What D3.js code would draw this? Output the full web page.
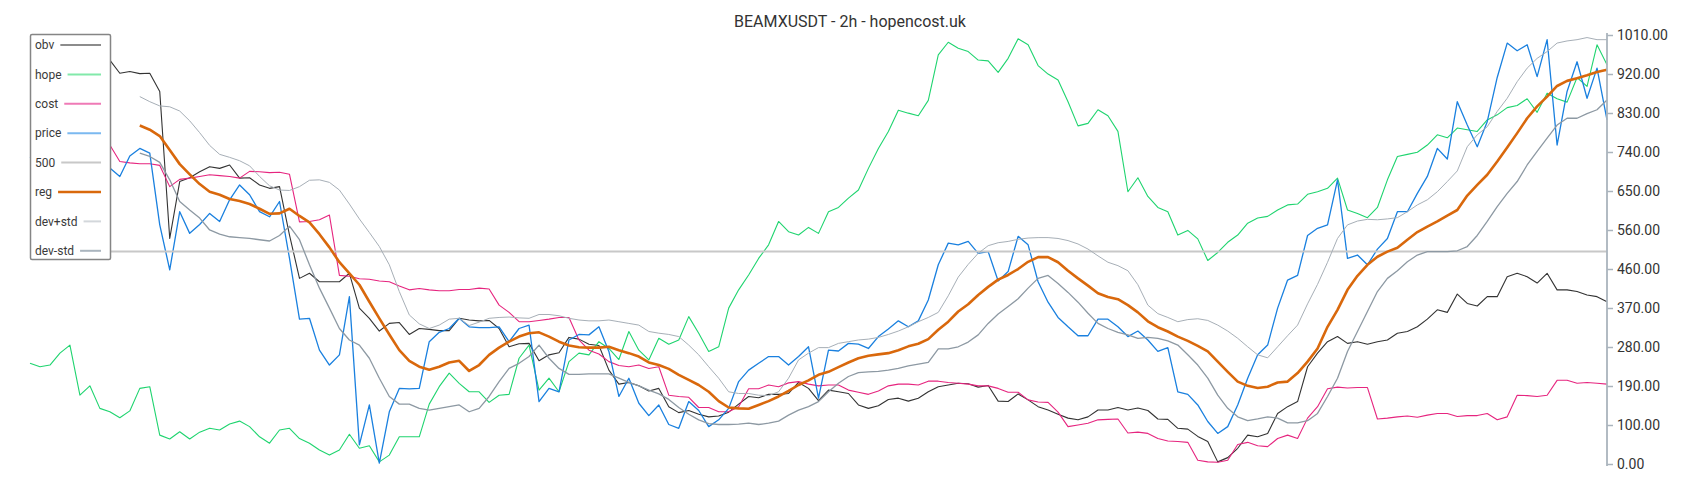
<!DOCTYPE html>
<html><head><meta charset="utf-8">
<script src="https://cdn.jsdelivr.net/npm/d3@7/dist/d3.min.js"></script>
<style>body{margin:0;background:#fff;} svg{display:block;font-family:Roboto,"Noto Sans",sans-serif;}</style>
</head><body><svg id="chart" width="1700" height="500"></svg>
<script>
const title = "BEAMXUSDT - 2h - hopencost.uk";
const tickLabels = ["0.00","100.00","190.00","280.00","370.00","460.00","560.00","650.00","740.00","830.00","920.00","1010.00"];
const yMax = 1010;
const refLevel = 500;
const seriesNames = ["obv","hope","cost","price","500","reg","dev+std","dev-std"];

const obv = [967,963,959,962,957,955,959,955,951,920,
924,919,920,877,531,665,674,688,700,696,
704,673,674,657,649,653,539,437,449,429,
429,429,449,367,343,313,331,333,305,319,
317,314,314,343,339,337,338,319,276,283,
284,243,257,262,298,294,282,279,221,188,
192,184,172,178,135,121,126,117,111,113,
122,141,159,156,164,164,166,192,178,149,
174,170,166,139,131,137,152,155,148,155,
170,182,186,190,189,181,185,148,147,165,
151,135,127,117,108,104,111,127,127,133,
127,132,126,106,105,84,82,65,53,5,
15,37,68,64,72,119,135,147,229,261,
288,300,284,288,282,288,292,308,312,323,
341,363,357,400,378,372,394,394,441,449,
441,426,449,410,410,406,398,394,382];

const hope = [237,229,233,261,280,162,184,131,123,109,
125,178,182,68,59,76,59,75,84,80,
94,101,88,64,49,80,84,60,49,33,
21,33,70,37,43,5,21,64,64,64,
141,182,214,190,170,170,145,162,164,249,
280,174,202,170,241,261,257,288,272,246,
312,268,245,296,282,292,347,308,265,276,
367,410,445,484,516,571,547,539,557,543,
594,604,626,645,696,743,783,833,826,820,
856,963,993,979,971,951,949,922,955,1001,
987,938,918,904,853,796,802,834,820,783,
641,674,630,604,594,539,550,530,479,498,
522,539,567,579,583,598,610,612,635,641,
649,673,598,590,580,604,669,724,729,734,
751,775,768,791,787,783,810,822,839,844,
860,828,873,860,852,910,889,987,940];

const cost = [759,757,755,755,754,753,753,753,751,712,
709,707,707,703,653,670,673,677,681,679,
677,673,689,688,686,687,682,570,571,575,
586,444,442,436,435,431,429,419,410,413,
410,408,408,411,411,414,412,374,357,335,
335,338,341,345,345,292,268,259,241,232,
229,233,225,229,162,159,157,133,133,123,
123,135,177,177,186,182,191,194,188,184,
186,186,174,169,164,172,184,188,188,186,
195,195,192,190,188,184,184,178,169,169,
151,146,145,122,88,92,96,104,105,106,
73,75,72,60,54,53,51,9,5,4,
9,46,51,43,41,60,68,60,108,135,
177,181,179,180,180,106,108,111,113,110,
115,119,119,112,114,114,119,104,111,162,
161,159,162,197,197,190,192,190,188];

const price = [720,736,704,728,713,697,720,704,697,677,
725,743,732,563,457,594,543,564,590,571,
622,657,634,594,582,618,484,341,343,268,
233,257,394,45,139,2,123,178,177,178,
288,310,319,343,323,321,321,323,288,319,
327,147,178,170,292,305,304,323,265,159,
202,143,114,139,93,84,147,126,88,104,
131,194,221,237,253,253,233,253,276,155,
268,266,284,282,272,300,318,337,323,337,
386,469,520,516,524,496,500,431,453,536,
516,429,381,345,323,302,302,341,341,323,
300,313,292,265,274,170,164,139,100,72,
88,139,202,257,280,367,433,444,538,555,
563,669,484,492,469,506,531,594,594,637,
677,743,718,853,798,747,806,910,991,973,
987,912,999,751,877,947,861,932,810];

const reg = [null,null,null,null,null,null,null,null,null,null,
null,797,787,772,739,706,682,659,641,634,
624,619,612,601,589,590,601,584,569,541,
510,475,449,422,382,343,305,268,243,229,
222,229,239,243,219,233,257,274,288,300,
308,310,300,288,279,275,274,274,276,268,
261,253,239,233,224,210,198,186,170,148,
133,131,130,139,148,159,172,186,197,210,
217,228,239,249,255,258,261,268,277,283,
294,316,335,359,376,398,417,434,445,459,
476,487,487,475,455,437,420,402,393,388,
374,357,336,322,312,300,290,278,265,241,
217,194,184,179,182,192,194,214,241,272,
323,363,410,443,469,488,500,509,528,546,
559,571,585,598,632,657,681,712,745,779,
814,842,865,890,902,908,915,923,928];

const devPlus = [null,null,null,null,null,null,null,null,null,null,
null,865,853,843,841,831,808,780,750,729,
722,714,702,677,655,645,644,653,668,669,
663,645,612,577,545,512,469,406,351,330,
319,327,341,343,326,334,343,345,346,344,
343,352,352,349,343,339,337,337,339,335,
331,327,312,308,305,300,280,257,229,202,
170,166,166,162,161,170,202,245,261,274,
274,284,288,292,294,298,305,313,323,335,
345,357,396,440,470,496,514,521,524,529,
532,533,533,531,526,518,506,490,475,467,
455,422,374,354,345,335,340,342,338,327,
313,296,276,257,250,276,302,327,377,423,
475,531,563,572,576,575,577,580,594,610,
622,641,665,690,747,775,794,830,861,900,
932,955,971,991,996,999,1004,999,999];

const devMinus = [null,null,null,null,null,null,null,null,null,null,
null,732,724,710,669,618,598,579,551,541,
535,533,531,528,525,538,560,528,469,414,
367,319,292,280,249,202,159,141,141,131,
127,131,135,139,123,131,159,194,225,237,
253,280,249,225,211,211,212,212,212,202,
192,184,174,165,152,133,117,104,95,93,
93,94,96,93,96,101,115,127,135,147,
170,190,206,215,217,218,221,225,231,235,
239,271,271,276,287,304,331,353,371,389,
414,437,444,425,404,381,355,331,319,310,
304,296,298,296,290,280,257,233,202,162,
131,111,102,106,111,108,97,97,102,119,
159,202,265,312,359,406,437,455,476,492,
500,500,500,502,512,538,571,606,637,665,
704,736,767,798,814,814,825,834,857];

const N = price.length;
const svg = d3.select("#chart");
const x = d3.scaleLinear().domain([0, N - 1]).range([30, 1607]);
const y = d3.scaleLinear().domain([0, yMax]).range([464, 35]);

const lineGen = d3.line().defined(d => d != null).x((d, i) => x(i)).y(d => y(d));

const plotSeries = [
  {name:"obv", data:obv, color:"#333333", w:1.1, legend:"#8c8c8c"},
  {name:"hope", data:hope, color:"#1fd46f", w:1.1, legend:"#82e9aa"},
  {name:"cost", data:cost, color:"#e6257f", w:1.1, legend:"#ef7ab6"},
  {name:"price", data:price, color:"#1a80df", w:1.3, legend:"#7bb9f0"},
  {name:"500", data:null, color:"#c8c8c8", w:2, legend:"#c8c8c8"},
  {name:"reg", data:reg, color:"#d9680c", w:2.6, legend:"#d9690c"},
  {name:"dev+std", data:devPlus, color:"#a7afb7", w:1, legend:"#d3d7db"},
  {name:"dev-std", data:devMinus, color:"#8d99a3", w:1.3, legend:"#aab5be"}
];

const g = svg.append("g");
plotSeries.forEach(s => {
  if (s.name === "500") {
    g.append("line").attr("x1", x(0)).attr("x2", x(N - 1))
      .attr("y1", y(refLevel)).attr("y2", y(refLevel))
      .attr("stroke", s.color).attr("stroke-width", s.w);
  } else {
    g.append("path").datum(s.data).attr("d", lineGen)
      .attr("fill", "none").attr("stroke", s.color).attr("stroke-width", s.w)
      .attr("stroke-linejoin", "round");
  }
});

// right axis
const tickVals = tickLabels.map((t, i) => i * yMax / (tickLabels.length - 1));
const axis = d3.axisRight(y).tickValues(tickVals).tickFormat((d, i) => tickLabels[i])
  .tickSize(6).tickSizeOuter(0).tickPadding(4);
const ag = svg.append("g").attr("transform", "translate(1607,0)").call(axis);
ag.select(".domain").attr("stroke", "#aab4bd").attr("stroke-width", 1.8)
  .attr("d", "M0,33V466");
ag.selectAll(".tick line").attr("stroke", "#aab4bd").attr("stroke-width", 1.5);
ag.selectAll(".tick text").attr("fill", "#333").style("font-size", "14px")
  .style("font-family", "Roboto, sans-serif");

// title
svg.append("text").attr("x", 850).attr("y", 27).attr("text-anchor", "middle")
  .attr("fill", "#333").style("font-size", "16px").text(title);

// legend
const lg = svg.append("g");
lg.append("rect").attr("x", 30.5).attr("y", 34.5).attr("width", 80).attr("height", 225)
  .attr("fill", "#fff").attr("stroke", "#858585").attr("stroke-width", 1.5).attr("rx", 1.5);
plotSeries.forEach((s, k) => {
  const cy = 45 + k * 29.4;
  const t = lg.append("text").attr("x", 35).attr("y", cy + 4.2).attr("fill", "#3a3a3a")
    .style("font-size", "12px").text(seriesNames[k]);
  const tw = t.node().getComputedTextLength();
  lg.append("line").attr("x1", 35 + tw + 6).attr("x2", 101).attr("y1", cy).attr("y2", cy)
    .attr("stroke", s.legend).attr("stroke-width", s.name === "reg" ? 2.5 : 2);
});
</script></body></html>
